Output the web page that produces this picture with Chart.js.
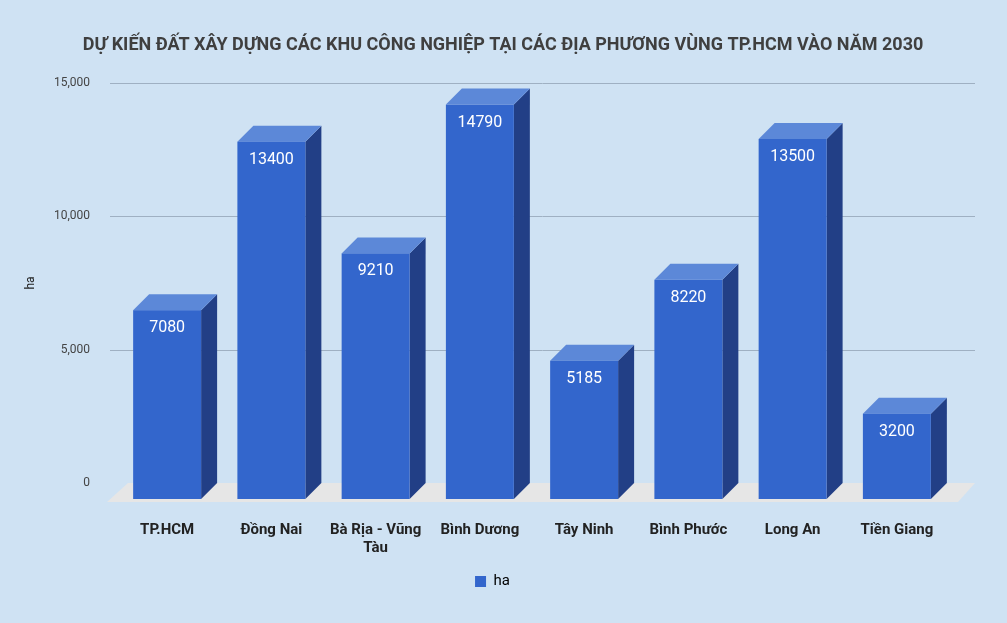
<!DOCTYPE html>
<html>
<head>
<meta charset="utf-8">
<script src="https://cdn.jsdelivr.net/npm/chart.js@4.4.1/dist/chart.umd.min.js"></script>
<style>
  html, body { margin: 0; padding: 0; background: #cfe2f3; }
  #wrap { width: 1007px; height: 623px; }
</style>
</head>
<body>
<div id="wrap"><canvas id="c" width="1007" height="623"></canvas></div>
<script>
const categories = ['TP.HCM', 'Đồng Nai', ['Bà Rịa - Vũng', 'Tàu'], 'Bình Dương', 'Tây Ninh', 'Bình Phước', 'Long An', 'Tiền Giang'];
const values = [7080, 13400, 9210, 14790, 5185, 8220, 13500, 3200];
const yTicks = [0, 5000, 10000, 15000];
const seriesName = 'ha';
const chartTitle = 'DỰ KIẾN ĐẤT XÂY DỰNG CÁC KHU CÔNG NGHIỆP TẠI CÁC ĐỊA PHƯƠNG VÙNG TP.HCM VÀO NĂM 2030';

const DEPTH = 16;
const FONT = 'Roboto, "Noto Sans", sans-serif';

// floor, grid, 3d bars and title are painted by hand around the library's scales
const bars3d = {
  id: 'bars3d',
  beforeDatasetsDraw(chart) {
    const ctx = chart.ctx;
    const y = chart.scales.y;
    const area = chart.chartArea;
    const base = y.getPixelForValue(0);
    ctx.save();
    ctx.fillStyle = '#e6e6e6';
    ctx.beginPath();
    ctx.moveTo(area.left - 3, base);
    ctx.lineTo(area.right + 10, base);
    ctx.lineTo(area.right - 7, base + 19);
    ctx.lineTo(area.left - 24, base + 19);
    ctx.closePath();
    ctx.fill();
    ctx.strokeStyle = '#9fb0c2';
    ctx.lineWidth = 1;
    yTicks.forEach(v => {
      if (v === 0) return;
      const py = Math.round(y.getPixelForValue(v)) + 0.5;
      ctx.beginPath();
      ctx.moveTo(area.left - 21, py);
      ctx.lineTo(area.right + 10, py);
      ctx.stroke();
    });
    ctx.restore();
  },
  afterDatasetsDraw(chart) {
    const ctx = chart.ctx;
    const meta = chart.getDatasetMeta(0);
    ctx.save();
    meta.data.forEach((bar, i) => {
      const w = bar.width;
      const bl = bar.x - w / 2, br = bar.x + w / 2;
      const fl = bl - DEPTH, fr = br - DEPTH;
      const ft = bar.y + DEPTH, fb = bar.base + DEPTH;
      ctx.fillStyle = '#223f86';
      ctx.beginPath();
      ctx.moveTo(fr, ft); ctx.lineTo(br, bar.y); ctx.lineTo(br, bar.base); ctx.lineTo(fr, fb);
      ctx.closePath(); ctx.fill();
      ctx.fillStyle = '#5c88d8';
      ctx.beginPath();
      ctx.moveTo(fl, ft); ctx.lineTo(bl, bar.y); ctx.lineTo(br, bar.y); ctx.lineTo(fr, ft);
      ctx.closePath(); ctx.fill();
      ctx.fillStyle = '#3366cc';
      ctx.fillRect(fl, ft, w, fb - ft);
      ctx.fillStyle = '#ffffff';
      ctx.font = '16px ' + FONT;
      ctx.textAlign = 'center';
      ctx.textBaseline = 'middle';
      ctx.fillText(String(values[i]), (fl + fr) / 2, ft + 18);
    });
    ctx.restore();
  },
  afterDraw(chart) {
    const ctx = chart.ctx;
    ctx.save();
    ctx.fillStyle = '#3f3f3f';
    ctx.font = 'bold 18px ' + FONT;
    ctx.textAlign = 'center';
    ctx.textBaseline = 'middle';
    ctx.fillText(chartTitle, 503, 45);
    ctx.restore();
  }
};

new Chart(document.getElementById('c'), {
  type: 'bar',
  data: {
    labels: categories,
    datasets: [{
      label: seriesName,
      data: values,
      backgroundColor: 'rgba(0,0,0,0)',
      borderWidth: 0,
      categoryPercentage: 1,
      barPercentage: 0.652,
    }]
  },
  options: {
    responsive: false,
    animation: false,
    devicePixelRatio: 1,
    layout: { padding: { top: 83, left: 20, right: 42, bottom: 24 } },
    plugins: {
      title: { display: false },
      tooltip: { enabled: false },
      legend: {
        position: 'bottom',
        labels: {
          color: '#333',
          font: { family: FONT, size: 15 },
          boxWidth: 11, boxHeight: 11,
          padding: 10,
          generateLabels: () => [{ text: seriesName, fillStyle: '#3366cc', strokeStyle: '#3366cc', lineWidth: 0 }],
        }
      }
    },
    scales: {
      x: {
        grid: { display: false },
        border: { display: false },
        ticks: {
          color: '#222',
          font: { family: FONT, size: 15, weight: 'bold' },
          labelOffset: -DEPTH,
          padding: 30,
          maxRotation: 0,
          autoSkip: false,
        },
        afterFit(scale) { scale.height = 81; }
      },
      y: {
        min: 0, max: 15000,
        afterBuildTicks(scale) { scale.ticks = yTicks.map(v => ({ value: v })); },
        grid: { display: false },
        border: { display: false },
        title: { display: true, text: seriesName, color: '#222', font: { family: FONT, size: 12 } },
        ticks: { color: '#444', font: { family: FONT, size: 12 }, padding: 33 },
        afterFit(scale) { scale.width = 111; }
      }
    }
  },
  plugins: [bars3d]
});
</script>
</body>
</html>
